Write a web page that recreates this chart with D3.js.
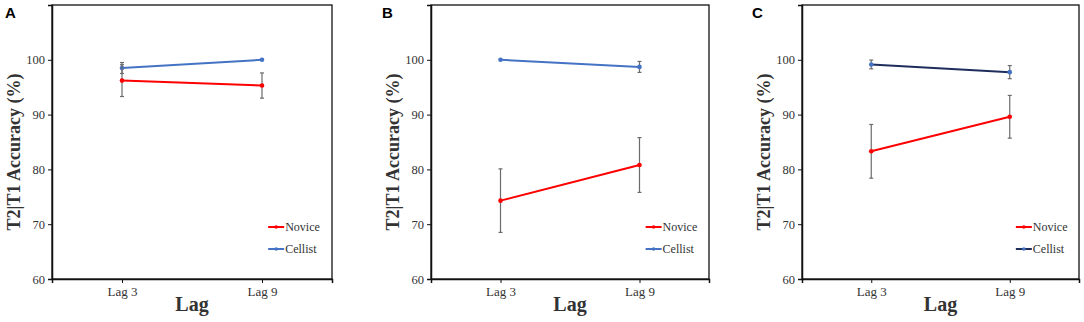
<!DOCTYPE html>
<html>
<head>
<meta charset="utf-8">
<script src="https://cdn.jsdelivr.net/npm/d3@7"></script>
<style>
  body { margin: 0; background: #fff; }
  svg { display: block; }
</style>
</head>
<body>
<div id="chart"></div>
<script>
// data
var lags = ["Lag 3", "Lag 9"];
var yTicks = [60, 70, 80, 90, 100];
var panelNames = ["A", "B", "C"];

var noviceMean = [[96.2, 95.3], [74.3, 80.8], [83.3, 89.6]];
var noviceErr  = [[2.9, 2.3], [5.8, 5.0], [4.9, 3.9]];
var cellistMean = [[98.5, 100.0], [100.0, 98.7], [99.15, 97.75]];
var cellistErr  = [[1.0, 0.0], [0.0, 1.0], [0.8, 1.2]];

// layout of the three panels (pixels)
var panelBox = [
  {x0: 52, x1: 332, letter: 5},
  {x0: 431, x1: 709, letter: 382},
  {x0: 802, x1: 1079, letter: 752}
];
var plotTop = 5, plotBottom = 279;
var cellistLine = ["#4472c4", "#4472c4", "#1f2d5c"];
var serif = "'Liberation Serif', 'Times New Roman', serif";

var svg = d3.select("#chart").append("svg")
  .attr("width", 1084)
  .attr("height", 322)
  .style("font-family", serif);

panelNames.forEach(function(name, p) {
  var box = panelBox[p];
  var w = box.x1 - box.x0, h = plotBottom - plotTop;
  var g = svg.append("g").attr("transform", "translate(" + box.x0 + "," + plotTop + ")");

  var x = d3.scalePoint().domain(lags).range([0, w]).padding(0.5);
  var y = d3.scaleLinear().domain([60, 110]).range([h, 0]);

  // frame
  g.append("rect")
    .attr("x", 0).attr("y", 0).attr("width", w).attr("height", h)
    .attr("fill", "none").attr("stroke", "#111").attr("stroke-width", 1.3);

  // y axis
  var ya = g.append("g")
    .call(d3.axisLeft(y).tickValues(yTicks).tickSize(4).tickPadding(3))
    .attr("font-family", serif).attr("font-size", 12.5);
  ya.select(".domain").attr("stroke", "#111").attr("stroke-width", 1.5);
  ya.selectAll("text").attr("fill", "#333");
  ya.selectAll("line").attr("stroke", "#111");

  // x axis
  var xa = g.append("g").attr("transform", "translate(0," + h + ")")
    .call(d3.axisBottom(x).tickSize(4).tickPadding(4))
    .attr("font-family", serif).attr("font-size", 13);
  xa.select(".domain").attr("stroke", "#111").attr("stroke-width", 1.5);
  xa.selectAll("text").attr("fill", "#333");
  xa.selectAll("line").attr("stroke", "#111");

  // axis titles
  g.append("text")
    .attr("x", w / 2).attr("y", 311 - plotTop)
    .attr("text-anchor", "middle")
    .style("font-size", "20px").style("font-weight", "bold").attr("fill", "#333")
    .text("Lag");
  g.append("text")
    .attr("transform", "translate(-38," + (152 - plotTop) + ") rotate(-90)")
    .attr("text-anchor", "middle").attr("dominant-baseline", "central")
    .style("font-size", "18px").style("font-weight", "bold").attr("fill", "#333")
    .text("T2|T1 Accuracy (%)");

  var groups = [
    {label: "Novice", mean: noviceMean[p], err: noviceErr[p], line: "#ff0000", dot: "#ff0000"},
    {label: "Cellist", mean: cellistMean[p], err: cellistErr[p], line: cellistLine[p], dot: "#4472c4"}
  ];
  // draw cellist first so novice sits on top like the figure
  groups.slice().reverse().forEach(function(s) {
    var pts = lags.map(function(l, i) { return {lag: l, v: s.mean[i], e: s.err[i]}; });
    g.append("path").datum(pts)
      .attr("fill", "none").attr("stroke", s.line).attr("stroke-width", 2)
      .attr("d", d3.line().x(function(d) { return x(d.lag); }).y(function(d) { return y(d.v); }));
    var eb = g.selectAll(null).data(pts.filter(function(d) { return d.e > 0; })).enter().append("g")
      .attr("stroke", "#6b6b6b").attr("stroke-width", 1.2);
    eb.append("line")
      .attr("x1", function(d) { return x(d.lag); }).attr("x2", function(d) { return x(d.lag); })
      .attr("y1", function(d) { return y(d.v - d.e); }).attr("y2", function(d) { return y(d.v + d.e); });
    [-1, 1].forEach(function(sg) {
      eb.append("line")
        .attr("x1", function(d) { return x(d.lag) - 2; }).attr("x2", function(d) { return x(d.lag) + 2; })
        .attr("y1", function(d) { return y(d.v + sg * d.e); }).attr("y2", function(d) { return y(d.v + sg * d.e); });
    });
    g.selectAll(null).data(pts).enter().append("circle")
      .attr("cx", function(d) { return x(d.lag); }).attr("cy", function(d) { return y(d.v); })
      .attr("r", 2.3).attr("fill", s.dot);
  });

  // legend
  groups.forEach(function(s, i) {
    var ly = 227 + i * 22 - plotTop;
    var lx = w * 0.772;
    g.append("line").attr("x1", lx).attr("x2", lx + 16).attr("y1", ly).attr("y2", ly)
      .attr("stroke", s.line).attr("stroke-width", 2);
    g.append("circle").attr("cx", lx + 8).attr("cy", ly).attr("r", 1.8).attr("fill", s.dot);
    g.append("text").attr("x", lx + 17).attr("y", ly).attr("dy", "0.35em")
      .style("font-size", "12px").attr("fill", "#333").text(s.label);
  });

  // panel letter
  svg.append("text")
    .attr("x", box.letter).attr("y", 18)
    .style("font-family", "'Liberation Sans', Arial, sans-serif")
    .style("font-size", "15px").style("font-weight", "bold").attr("fill", "#000")
    .text(name);
});
</script>
</body>
</html>
